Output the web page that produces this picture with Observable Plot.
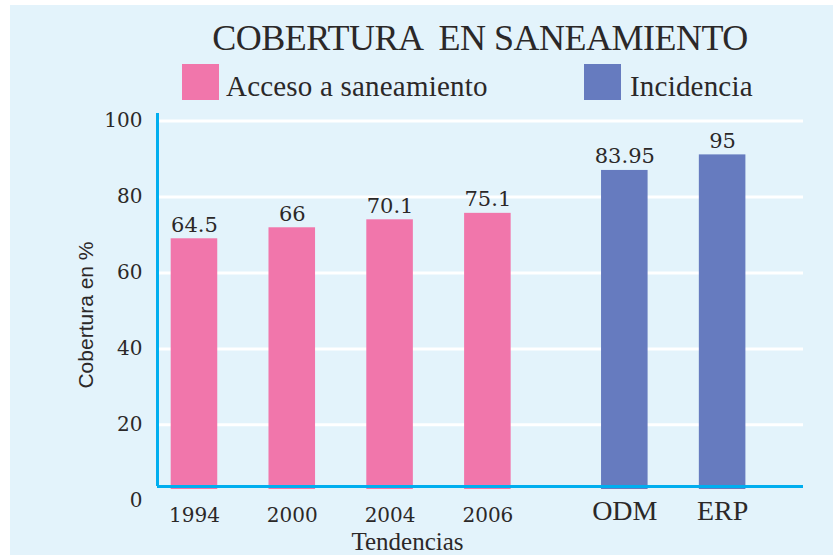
<!DOCTYPE html>
<html><head><meta charset="utf-8">
<script src="https://cdn.jsdelivr.net/npm/d3@7"></script>
<script src="https://cdn.jsdelivr.net/npm/@observablehq/plot@0.6"></script>
<style>
body{margin:0;background:#fff;width:833px;height:555px;overflow:hidden;position:relative;font-family:"Liberation Serif",serif;color:#2b2828}
#bg{position:absolute;left:10px;top:5px;width:823px;height:550px;background:#e3f3fb}
#title{position:absolute;left:0;top:20px;width:960px;text-align:center;font-size:36px;line-height:36px;white-space:pre;letter-spacing:-0.5px}
.lg{position:absolute;font-size:29px;line-height:29px;white-space:pre;letter-spacing:0.2px}
.sw{position:absolute;width:37px;height:36px;top:64px}
#chart{position:absolute;left:0;top:105px}
</style></head>
<body>
<div id="bg"></div>
<div id="title"></div>
<div id="legend"></div>
<div id="chart"></div>
<script>
const title = "COBERTURA  EN SANEAMIENTO";
const categories = ["1994", "2000", "2004", "2006", "ODM", "ERP"];
const groups = ["Acceso a saneamiento", "Acceso a saneamiento", "Acceso a saneamiento", "Acceso a saneamiento", "Incidencia", "Incidencia"];
const labels = ["64.5", "66", "70.1", "75.1", "83.95", "95"];
const heights = [69.0, 71.9, 74.0, 75.7, 87.0, 91.1];
const yTicks = [0, 20, 40, 60, 80, 100];
const seriesNames = ["Acceso a saneamiento", "Incidencia"];
const seriesColors = ["#f176ab", "#667bbf"];
const xTitle = "Tendencias";
const yTitle = "Cobertura en %";

document.getElementById("title").textContent = title;
const legend = document.getElementById("legend");
const swX = [182, 584], txX = [226, 630];
seriesNames.forEach((n, i) => {
  const s = document.createElement("div");
  s.className = "sw"; s.style.left = swX[i] + "px"; s.style.background = seriesColors[i];
  legend.appendChild(s);
  const t = document.createElement("div");
  t.className = "lg"; t.style.left = txX[i] + "px"; t.style.top = "72px"; t.textContent = n;
  legend.appendChild(t);
});

const data = categories.map((c, i) => ({
  cat: c, group: groups[i], label: labels[i], value: heights[i],
  pos: i + (groups[i] === "Incidencia" ? 0.4 : 0)
}));
const xDomain = [-0.378, 6.227];
const yDomain = [3.75, 102];
const half = 0.238;
const ink = "#2b2828";
const axisBlue = "#00aeef";

const chart = Plot.plot({
  width: 833, height: 450,
  marginLeft: 157, marginRight: 30, marginTop: 8, marginBottom: 69,
  style: {background: "transparent", overflow: "visible"},
  x: {type: "linear", domain: xDomain, axis: null},
  y: {domain: yDomain, axis: null},
  color: {domain: seriesNames, range: seriesColors},
  marks: [
    Plot.ruleY(yTicks.filter(d => d > 0), {stroke: "#fff", strokeWidth: 3}),
    Plot.rectY(data, {x1: d => d.pos - half, x2: d => d.pos + half, y1: yDomain[0], y2: "value", fill: "group", insetBottom: -3}),
    Plot.ruleY([yDomain[0]], {stroke: axisBlue, strokeWidth: 3}),
    Plot.ruleX([xDomain[0]], {stroke: axisBlue, strokeWidth: 3}),
    Plot.text(yTicks, {y: d => d, frameAnchor: "left", textAnchor: "end", dx: -15, fontFamily: "DejaVu Serif", fontSize: 20, fill: ink}),
    Plot.text(data.filter(d => d.group !== "Incidencia"), {x: "pos", text: "cat", frameAnchor: "bottom", lineAnchor: "top", dy: 21, fontFamily: "DejaVu Serif", fontSize: 20, fill: ink}),
    Plot.text(data.filter(d => d.group === "Incidencia"), {x: "pos", text: "cat", frameAnchor: "bottom", lineAnchor: "top", dy: 14, fontFamily: "Liberation Serif", fontSize: 28, fill: ink}),
    Plot.text(data, {x: "pos", y: "value", text: "label", lineAnchor: "bottom", dy: -7, fontFamily: "DejaVu Serif", fontSize: 21, fill: ink}),
    Plot.text([yTitle], {frameAnchor: "left", textAnchor: "middle", rotate: -90, dx: -71, dy: 15, fontFamily: "Liberation Sans", fontSize: 21, fill: ink}),
    Plot.text([xTitle], {frameAnchor: "bottom", textAnchor: "middle", lineAnchor: "top", dx: -73, dy: 46, fontFamily: "Liberation Serif", fontSize: 25, fill: ink})
  ]
});
document.getElementById("chart").appendChild(chart);
</script>
</body></html>
